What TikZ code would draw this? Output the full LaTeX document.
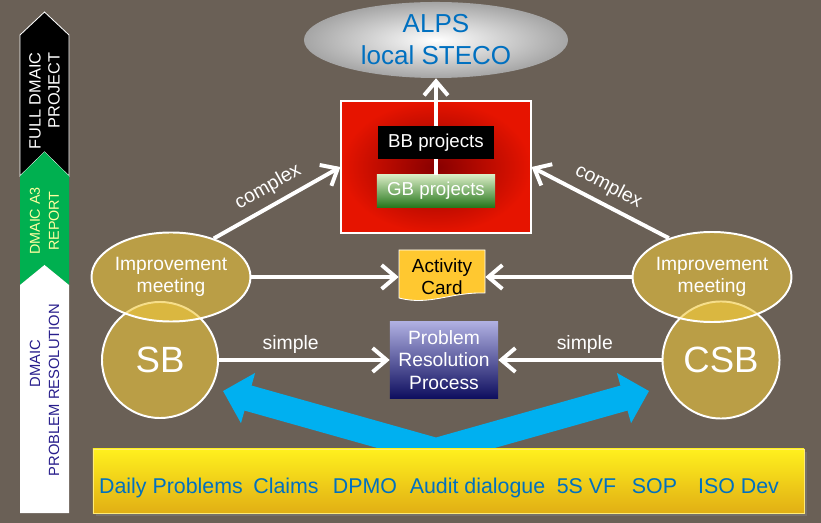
\documentclass[tikz,border=0pt]{standalone}
\usepackage{fontspec}
\setmainfont{Liberation Sans}
\usetikzlibrary{arrows.meta,shapes.geometric,shadows}
\definecolor{bg}{RGB}{106,96,86}
\definecolor{gold}{RGB}{240,200,60}
\definecolor{steco}{RGB}{0,112,192}
\definecolor{skyblue}{RGB}{0,176,240}
\definecolor{dmgreen}{RGB}{0,176,80}
\definecolor{dmtext}{RGB}{40,30,140}
\definecolor{cardcol}{RGB}{255,200,48}
\newcommand\fsz[2]{\fontsize{#1pt}{#2pt}\selectfont}
\begin{document}
\begin{tikzpicture}[x=0.025cm,y=-0.025cm,
    meet/.style={ellipse, draw=white, line width=1.4pt, fill=gold, fill opacity=0.6,
      text opacity=1, text=white, align=center, inner sep=0pt, font=\fsz{13.7}{15.6}},
    team/.style={circle, draw=white, line width=1.4pt, fill=gold, fill opacity=0.6,
      text opacity=1, text=white, inner sep=0pt, minimum size=2.9cm, font=\fsz{26}{30}},
    proj/.style={text=white, inner sep=0pt, font=\fsz{13.3}{16}},
    flow/.style={white, line width=2.8pt, -{Straight Barb[length=10pt,width=17pt]}},
    lbl/.style={text=white, inner sep=3pt, font=\fsz{13.8}{16}},
    feed/.style={skyblue, line width=18.5pt, line join=miter,
      arrows={Triangle[length=18.5pt,width=36pt]-Triangle[length=18.5pt,width=36pt]}},
    src/.style={text=steco, anchor=base, font=\fsz{15.2}{18}}]
  \useasboundingbox (0,0) rectangle (821,523);
  \fill[bg] (0,0) rectangle (821,523);

  \filldraw[fill=black, draw=white, line width=0.6pt]
    (20,35) -- (44.5,12) -- (69,35) -- (69,176) -- (44.5,152) -- (20,176) -- cycle;
  \fill[dmgreen] (20,176) -- (44.5,152) -- (69,176) -- (69,285) -- (44.5,265) -- (20,285) -- cycle;
  \fill[white] (20,285) -- (44.5,265) -- (69,285) -- (69,513) -- (20,513) -- cycle;
  \node[rotate=90, align=right, text=white, font=\fsz{11.6}{13.5}] (full) at (44.5,101) {FULL DMAIC\\PROJECT};
  \node[rotate=90, align=center, text={rgb,255:red,255;green,255;blue,160}, font=\fsz{10.2}{13.5}] (a3) at (44.5,221) {DMAIC A3\\REPORT};
  \node[rotate=90, align=center, text=dmtext, font=\fsz{10.5}{13.5}] (res) at (44.5,390) {\hspace*{38pt}DMAIC\\PROBLEM RESOLUTION};

  \coordinate (tl) at (223,391);
  \coordinate (v) at (436,451);
  \coordinate (tr) at (649,391);
  \draw[feed] (tl) -- (v) -- (tr);

  \node[draw={rgb,255:red,255;green,235;blue,120}, top color={rgb,255:red,255;green,240;blue,30},
    bottom color={rgb,255:red,225;green,175;blue,20}, minimum width=17.775cm, minimum height=1.6cm,
    drop shadow={shadow xshift=2pt, shadow yshift=-2pt, opacity=0.5}] (bar) at (448.5,481) {};
  \node[src] (daily) at (171,493) {Daily Problems};
  \node[src] (claims) at (286,493) {Claims};
  \node[src] (dpmo) at (365,493) {DPMO};
  \node[src] (audit) at (477.5,493) {Audit dialogue};
  \node[src] (vf) at (586.5,493) {5S VF};
  \node[src] (sop) at (654.5,493) {SOP};
  \node[src] (iso) at (738.5,493) {ISO Dev};

  \node[team] (sb) at (160,360) {SB};
  \node[team, minimum size=2.925cm] (csb) at (721,360) {CSB};
  \node[meet, minimum width=3.325cm, minimum height=2.225cm] (iml) at (171,277) {Improvement\\meeting};
  \node[meet, minimum width=3.4cm, minimum height=2.25cm] (imr) at (712,277) {Improvement\\meeting};

  \node[ellipse, inner color=white, outer color={rgb,255:red,165;green,165;blue,165},
    minimum width=6.6cm, minimum height=1.9cm, inner sep=0pt, align=center, text=steco,
    font=\fsz{18.5}{22.8}] (alps) at (436,40) {ALPS\\local STECO};
  \node[draw=white, line width=0.8pt, inner color={rgb,255:red,135;green,0;blue,0},
    outer color={rgb,255:red,230;green,20;blue,0}, minimum width=4.75cm, minimum height=3.3cm] (pool) at (436,167) {};
  \node[proj, top color={rgb,255:red,215;green,235;blue,195}, bottom color={rgb,255:red,40;green,120;blue,30},
    minimum width=2.95cm, minimum height=0.8cm] (gb) at (436,191) {GB projects};
  \draw[flow] (gb.north) -- (alps.south);
  \node[proj, fill=black, minimum width=2.9cm, minimum height=0.825cm] (bb) at (436,143) {BB projects};

  \filldraw[fill=cardcol, draw=white, line width=0.6pt]
    (399,250) -- (485,250) -- (485,293) .. controls (450,292) and (430,306) .. (399,298) -- cycle;
  \node[align=center, inner sep=0pt, font=\fsz{13.5}{15.6}, minimum width=2.15cm, minimum height=1.3cm] (card) at (442,277) {Activity\\Card};
  \node[top color={rgb,255:red,175;green,175;blue,225}, bottom color={rgb,255:red,15;green,15;blue,95},
    text=white, align=center, inner sep=0pt, font=\fsz{13.7}{16}, minimum width=2.7cm, minimum height=1.9cm] (prp) at (444,360) {Problem\\Resolution\\Process};

  \begin{scope}[flow]
    \draw (iml.42) to node[lbl, midway, sloped, above=2pt] {complex} (pool.west);
    \draw (imr.138) to node[lbl, midway, sloped, above=2pt] {complex} (pool.east);
    \draw (iml.east) to (card.west);
    \draw (imr.west) to (card.east);
    \draw (sb.east) to node[lbl, pos=0.42, above] {simple} (prp.west);
    \draw (csb.west) to node[lbl, pos=0.47, above] {simple} (prp.east);
  \end{scope}
\end{tikzpicture}
\end{document}
